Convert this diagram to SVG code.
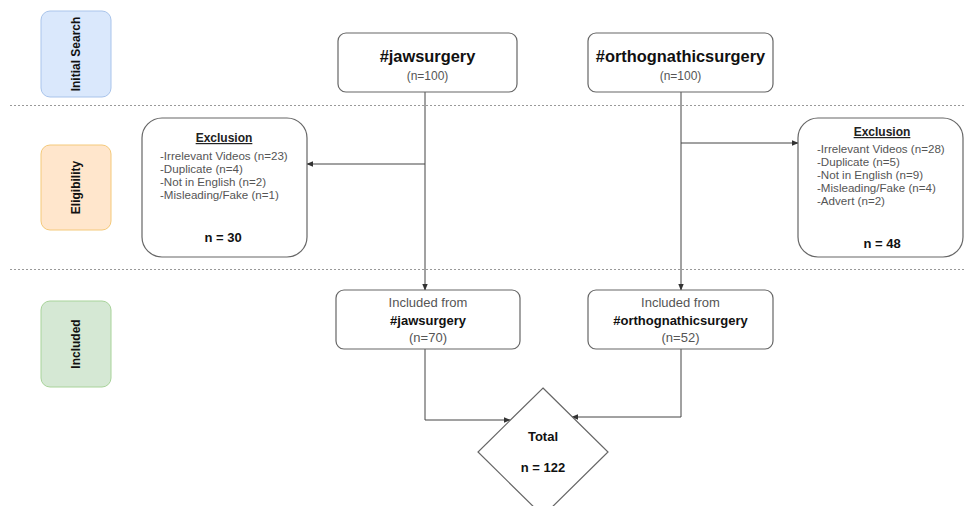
<svg xmlns="http://www.w3.org/2000/svg" width="964" height="506" viewBox="0 0 964 506">
<defs>
<marker id="ah" viewBox="0 0 10 10" refX="9" refY="5" markerWidth="7" markerHeight="7" orient="auto" markerUnits="userSpaceOnUse">
<path d="M0,1 L10,5 L0,9 Z" fill="#333"/>
</marker>
<style>
text{font-family:"Liberation Sans",Arial,sans-serif}
.box{fill:#fff;stroke:#666;stroke-width:1.2}
.conn{fill:none;stroke:#444;stroke-width:1;marker-end:url(#ah)}
.sep{stroke:#999;stroke-width:1;stroke-dasharray:2 2}
.lab{font-size:12px;font-weight:bold;fill:#111;text-anchor:middle}
.t16{font-size:16.4px;font-weight:bold;fill:#111;text-anchor:middle}
.sub{font-size:12px;fill:#555;text-anchor:middle}
.ex{font-size:11.6px;fill:#555}
.exh{font-size:12px;font-weight:bold;fill:#222;text-anchor:middle;text-decoration:underline}
.nb{font-size:13px;font-weight:bold;fill:#111;text-anchor:middle}
.inc{font-size:13px;fill:#555;text-anchor:middle}
.incb{font-size:13px;font-weight:bold;fill:#111;text-anchor:middle}
</style>
</defs>
<rect width="964" height="506" fill="#fff"/>
<line class="sep" x1="10" y1="105.5" x2="964" y2="105.5"/>
<line class="sep" x1="10" y1="269.5" x2="964" y2="269.5"/>

<g id="stage-initial">
<rect x="41" y="11" width="70" height="86" rx="9" fill="#dae8fc" stroke="#a9c4eb"/>
<text class="lab" transform="translate(80,54) rotate(-90)">Initial Search</text>
</g>
<g id="stage-eligibility">
<rect x="41" y="145" width="70" height="85" rx="9" fill="#ffe6cc" stroke="#f4c97a"/>
<text class="lab" transform="translate(80,187.5) rotate(-90)">Eligibility</text>
</g>
<g id="stage-included">
<rect x="41" y="301" width="70" height="86" rx="9" fill="#d5e8d4" stroke="#a8d39a"/>
<text class="lab" transform="translate(80,344) rotate(-90)">Included</text>
</g>

<g id="connectors">
<path class="conn" d="M425,92 V290"/>
<path class="conn" d="M425,164 H307"/>
<path class="conn" d="M681,92 V290"/>
<path class="conn" d="M681,143 H798"/>
<path class="conn" d="M425,349 V420 H510"/>
<path class="conn" d="M681,349 V417 H572"/>
</g>

<g id="jaw">
<rect class="box" x="338" y="33" width="179" height="59" rx="8"/>
<text class="t16" x="427.5" y="62">#jawsurgery</text>
<text class="sub" x="427.5" y="80">(n=100)</text>
</g>
<g id="ortho">
<rect class="box" x="588" y="33" width="185" height="59" rx="8"/>
<text class="t16" x="680.5" y="62">#orthognathicsurgery</text>
<text class="sub" x="680.5" y="80">(n=100)</text>
</g>

<g id="excl-left">
<rect class="box" x="142" y="118" width="165" height="139" rx="20"/>
<text class="exh" x="224" y="142">Exclusion</text>
<text class="ex" x="160" y="160">-Irrelevant Videos (n=23)</text>
<text class="ex" x="160" y="173">-Duplicate (n=4)</text>
<text class="ex" x="160" y="186">-Not in English (n=2)</text>
<text class="ex" x="160" y="199">-Misleading/Fake (n=1)</text>
<text class="nb" x="223" y="242">n = 30</text>
</g>
<g id="excl-right">
<rect class="box" x="798" y="118" width="165" height="139" rx="20"/>
<text class="exh" x="882" y="136">Exclusion</text>
<text class="ex" x="817" y="153">-Irrelevant Videos (n=28)</text>
<text class="ex" x="817" y="166">-Duplicate (n=5)</text>
<text class="ex" x="817" y="179">-Not in English (n=9)</text>
<text class="ex" x="817" y="192">-Misleading/Fake (n=4)</text>
<text class="ex" x="817" y="205">-Advert (n=2)</text>
<text class="nb" x="882" y="248">n = 48</text>
</g>

<g id="inc-jaw">
<rect class="box" x="336" y="290" width="184" height="59" rx="8"/>
<text class="inc" x="428" y="307">Included from</text>
<text class="incb" x="428" y="325">#jawsurgery</text>
<text class="inc" x="428" y="342">(n=70)</text>
</g>
<g id="inc-ortho">
<rect class="box" x="588" y="290" width="185" height="59" rx="8"/>
<text class="inc" x="680.5" y="307">Included from</text>
<text class="incb" x="680.5" y="325">#orthognathicsurgery</text>
<text class="inc" x="680.5" y="342">(n=52)</text>
</g>

<g id="total">
<path class="box" d="M543,388 L608,452 L543,516 L478,452 Z"/>
<text class="nb" x="543" y="441">Total</text>
<text class="nb" x="543" y="472">n = 122</text>
</g>
</svg>
